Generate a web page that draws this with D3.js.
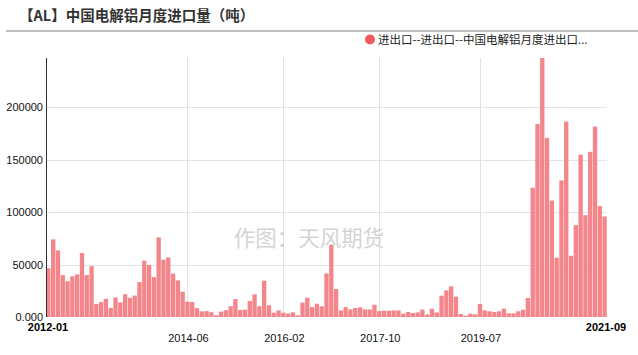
<!DOCTYPE html>
<html><head><meta charset="utf-8">
<script src="https://cdn.jsdelivr.net/npm/d3@7"></script>
<style>
html,body{margin:0;padding:0;background:#fff;}
svg{display:block;font-family:"Liberation Sans","Noto Sans CJK SC",sans-serif;}
</style></head>
<body>
<svg id="c" width="638" height="355"></svg>
<script>
const title = "【AL】中国电解铝月度进口量（吨）";
const legendLabel = "进出口--进出口--中国电解铝月度进出口...";
const watermark = "作图：天风期货";
const startYear = 2012, startMonth = 1, monthCount = 117;
const values = [
46500,74000,63500,40000,34200,38800,40600,61000,40000,48500,12500,14200,
17300,8600,18700,14000,21700,18300,20400,33300,53700,49500,38000,75900,
54600,56800,41300,34900,24100,14700,14300,8400,5400,5600,4600,1700,
5100,6500,10200,17100,6700,7000,15200,21600,10200,34600,11100,4100,
6300,4100,3200,4400,1600,13700,18400,9500,12700,10200,41600,68900,
26700,6300,9500,7300,8600,9200,7300,7300,11700,5700,6000,5900,
6300,6300,3200,4800,3800,4400,7000,2500,7900,4400,20300,25400,
29200,19400,2900,1300,3200,2500,12400,6300,5400,4800,5400,7900,
3500,3500,5400,7000,18100,123200,184100,247000,170800,111100,56500,130200,
186300,58400,87600,154900,97100,157500,181600,105700,95900];
const yTickValues = [0,50000,100000,150000,200000];
const yTickLabels = ["0.000","50000","100000","150000","200000"];
const xEdgeLabels = ["2012-01","2021-09"];
const xMidLabels = ["2014-06","2016-02","2017-10","2019-07"];

const months = [];
for (let i = 0; i < monthCount; i++) {
  const y = startYear + Math.floor((startMonth - 1 + i) / 12);
  const m = (startMonth - 1 + i) % 12 + 1;
  months.push(y + "-" + String(m).padStart(2, "0"));
}

const svg = d3.select("#c");
const L = 46, R = 607, T = 58, B = 317;
const x = d3.scaleBand().domain(months).range([L, R]).paddingInner(0.1).paddingOuter(0.05);
const y = d3.scaleLinear().domain([0, d3.max(values)]).range([B, T]);

// title
svg.append("text").attr("x", 19).attr("y", 21).attr("font-size", 14.5).attr("font-weight", "bold")
  .attr("fill", "#333").attr("font-family", "'Noto Sans CJK SC','Liberation Sans',sans-serif").text(title);
svg.append("line").attr("x1", 6).attr("x2", 638).attr("y1", 31).attr("y2", 31)
  .attr("stroke", "#aaa").attr("stroke-width", 1.5);

// legend
svg.append("circle").attr("cx", 370).attr("cy", 39.5).attr("r", 5).attr("fill", "#ee5a5f");
svg.append("text").attr("x", 378).attr("y", 44).attr("font-size", 11.5).attr("fill", "#222")
  .attr("font-family", "'Noto Sans CJK SC','Liberation Sans',sans-serif").text(legendLabel);

// horizontal grid
svg.append("g").selectAll("line").data(yTickValues.filter(v => v > 0)).join("line")
  .attr("x1", L).attr("x2", R).attr("y1", d => Math.round(y(d)) + 0.5).attr("y2", d => Math.round(y(d)) + 0.5)
  .attr("stroke", "#e3e3e3").attr("stroke-width", 1);
// vertical grid
const cx = d => x(d) + x.bandwidth() / 2;
svg.append("g").selectAll("line").data(xMidLabels).join("line")
  .attr("x1", d => Math.round(cx(d)) + 0.5).attr("x2", d => Math.round(cx(d)) + 0.5)
  .attr("y1", T).attr("y2", B).attr("stroke", "#e3e3e3").attr("stroke-width", 1);

// watermark
svg.append("text").attr("x", 309).attr("y", 246).attr("text-anchor", "middle").attr("font-size", 21.5)
  .attr("fill", "#d4d4d4").attr("font-family", "'Noto Sans CJK SC',sans-serif").text(watermark);

// bars
svg.append("g").selectAll("rect").data(values).join("rect")
  .attr("x", (d, i) => x(months[i])).attr("width", x.bandwidth())
  .attr("y", d => y(d)).attr("height", d => B - y(d))
  .attr("fill", "#f4868b");

// y axis
svg.append("line").attr("x1", L + 0.5).attr("x2", L + 0.5).attr("y1", T).attr("y2", B)
  .attr("stroke", "#333").attr("stroke-width", 1);
svg.append("g").selectAll("text").data(yTickValues).join("text")
  .attr("x", 43).attr("y", d => y(d) + 4).attr("text-anchor", "end").attr("font-size", 11)
  .attr("fill", "#111").text((d, i) => yTickLabels[i]);

// x labels
svg.append("g").selectAll("text").data(xEdgeLabels).join("text")
  .attr("x", (d, i) => i === 0 ? L + 2 : R - 1).attr("y", 331).attr("text-anchor", "middle")
  .attr("font-size", 11).attr("font-weight", "bold").attr("fill", "#000").text(d => d);
svg.append("g").selectAll("text").data(xMidLabels).join("text")
  .attr("x", d => cx(d) + 1).attr("y", 342).attr("text-anchor", "middle")
  .attr("font-size", 11).attr("fill", "#111").text(d => d);
</script>
</body></html>
